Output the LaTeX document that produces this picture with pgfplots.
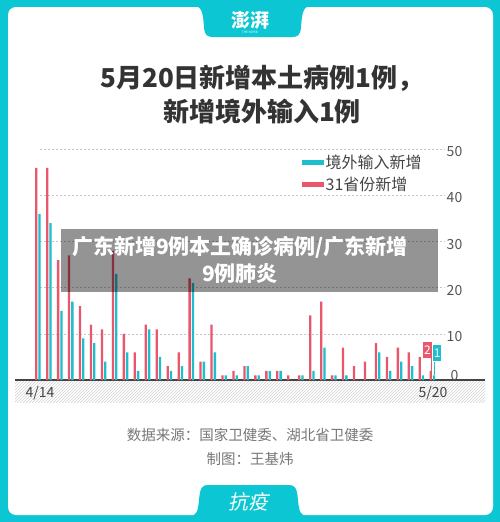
\documentclass[border=0pt]{standalone}
\usepackage{fontspec}
\setmainfont{Noto Sans CJK SC}
\usepackage{pgfplots}
\usepackage{pgfplotstable}
\pgfplotsset{compat=1.18}
\usetikzlibrary{patterns}
\definecolor{teal1}{HTML}{0CC7D3}
\definecolor{barred}{HTML}{E8576C}
\definecolor{barcyan}{HTML}{1DBFCD}
\definecolor{titlegray}{HTML}{333333}
\definecolor{srcgray}{HTML}{777777}
\definecolor{tickgray}{HTML}{555555}
\definecolor{axisgray}{HTML}{444444}

\pgfplotstableread{
d red cyan
0 46 36
1 46 34
2 26 15
3 27 17
4 16 9
5 12 8
6 11 4
7 28 23
8 10 6
9 6 2
10 12 11
11 11 5
12 3 2
13 6 3
14 22 21
15 4 4
16 12 6
17 1 1
18 2 1
19 3 3
20 1 1
21 2 2
22 2 2
23 1 0
24 1 1
25 14 2
26 17 7
27 1 1
28 7 1
29 3 0
30 4 0
31 8 6
32 5 2
33 7 4
34 6 3
35 5 1
36 2 1
}\data

\begin{document}
\begin{tikzpicture}[x=1pt,y=1pt]
% frame
\fill[teal1] (0,0) rectangle (500,-522);
\fill[white, rounded corners=8pt] (8,-7) rectangle (493,-515);
% top tab
\fill[teal1] (193,-6) .. controls (201,-6) and (203,-10) .. (204,-28)
  .. controls (205,-35) and (207,-37) .. (213,-37) -- (292,-37)
  .. controls (298,-37) and (300,-35) .. (301,-28)
  .. controls (302,-10) and (304,-6) .. (312,-6) -- cycle;
\node[text=white, font=\fontsize{19}{19}\selectfont\bfseries] at (250,-20) {澎湃};
\node[text=white, font=\fontsize{3}{3}\selectfont] at (250,-32) {THE PAPER};
% bottom tab
\fill[teal1] (190,-516) .. controls (196,-516) and (198,-512) .. (199,-500)
  .. controls (200,-488) and (202,-485) .. (208,-485) -- (289,-485)
  .. controls (295,-485) and (297,-488) .. (298,-500)
  .. controls (299,-512) and (301,-516) .. (307,-516) -- cycle;
\node[text=white, font=\fontsize{20}{20}\selectfont, xslant=0.2] at (250,-502) {抗疫};
% title
\node[text=titlegray, font=\fontsize{26}{34}\selectfont\bfseries, align=center] at (262,-95)
  {5月20日新增本土病例1例，\\新增境外输入1例};
% hatched band and axis line
\fill[pattern=north east lines, pattern color=gray!35] (15,-381) rectangle (485,-402);
\draw[line width=2pt, axisgray] (15,-380) -- (485,-380);

\begin{axis}[
  at={(40pt,-380pt)}, anchor=south west,
  scale only axis, width=405pt, height=230.7pt,
  xmin=0.196, xmax=37.15, ymin=0, ymax=50,
  clip=false,
  axis line style={draw=none},
  major tick length=0pt,
  xtick={0.196,36.05}, xticklabels={4/14,5/20},
  xticklabel style={font=\fontsize{14}{14}\selectfont, text=axisgray, yshift=-3pt},
  ytick={10,20,30,40,50},
  extra y ticks={0},
  extra y tick style={grid=none, yticklabel style={yshift=6.5pt}},
  yticklabel pos=right,
  yticklabel style={anchor=center, xshift=9.5pt, yshift=-2.5pt,
    font=\fontsize{14}{14}\selectfont, text=tickgray},
  /pgf/number format/assume math mode=true,
  ymajorgrids,
  major grid style={gray!45, dash pattern=on 2pt off 2pt, line width=0.6pt},
  legend cell align=left,
  legend style={at={(axis description cs:0.647,0.985)}, anchor=north west,
    draw=none, fill=none, inner sep=0pt,
    font=\fontsize{16}{16}\selectfont, text=axisgray, row sep=3pt},
]
\addplot[ybar, bar width=2.3pt, bar shift=-1.65pt, fill=barred, draw=none, forget plot]
  table[x=d, y=red] {\data};
\addplot[ybar, bar width=2.3pt, bar shift=1.65pt, fill=barcyan, draw=none, forget plot]
  table[x=d, y=cyan] {\data};
\addlegendimage{legend image code/.code={\fill[barcyan] (0pt,-2pt) rectangle (21pt,2pt);}}
\addlegendentry{境外输入新增}
\addlegendimage{legend image code/.code={\fill[barred] (0pt,-2pt) rectangle (21pt,2pt);}}
\addlegendentry{31省份新增}
% value flags for the last day
\draw[barred, line width=0.5pt] ([xshift=-1.2pt]axis cs:36,2) -- ++(0,12.8pt);
\node[fill=barred, text=white, anchor=south east, minimum width=8.3pt, minimum height=16pt,
  inner sep=0pt, font=\fontsize{12}{12}\selectfont] at ([xshift=-0.5pt, yshift=12.8pt]axis cs:36,2) {2};
\draw[barcyan, line width=0.5pt] ([xshift=1.6pt]axis cs:36,1) -- ++(0,13.7pt);
\node[fill=barcyan, text=white, anchor=south west, minimum width=8.3pt, minimum height=16pt,
  inner sep=0pt, font=\fontsize{12}{12}\selectfont] at ([xshift=0.5pt, yshift=13.7pt]axis cs:36,1) {1};
\end{axis}

% overlay caption
\fill[black, fill opacity=0.42] (61,-229) rectangle (438,-292);
\node[text=white, font=\fontsize{21}{27}\selectfont\bfseries, align=center] at (240,-259.5)
  {广东新增9例本土确诊病例/广东新增\\9例肺炎};
% source
\node[text=srcgray, font=\fontsize{14.5}{24}\selectfont, align=center] at (250,-447)
  {数据来源：国家卫健委、湖北省卫健委\\制图：王基炜};
\end{tikzpicture}
\end{document}
